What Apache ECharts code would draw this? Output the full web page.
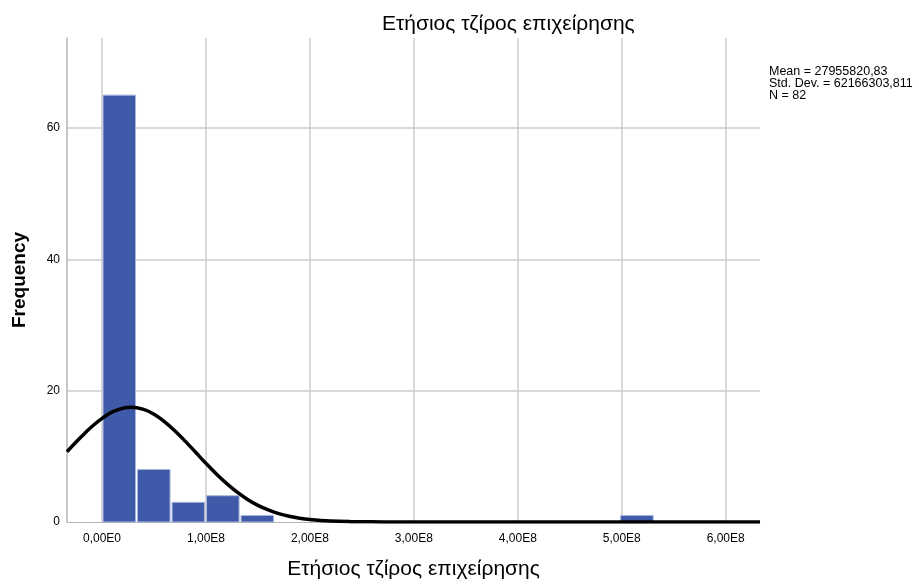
<!DOCTYPE html>
<html>
<head>
<meta charset="utf-8">
<script src="https://cdn.jsdelivr.net/npm/echarts@6/dist/echarts.min.js"></script>
<style>html,body{margin:0;padding:0;background:#fff}#c{width:919px;height:585px}</style>
</head>
<body>
<div id="c"></div>
<script>
// Histogram bins (value units)
var binLow = [0, 33200000, 66400000, 99600000, 132800000, 498000000];
var binHigh = [33200000, 66400000, 99600000, 132800000, 166000000, 531200000];
var counts = [65, 8, 3, 4, 1, 1];

// Normal curve (x in value units, y frequency)
var curveX = [-33700000, -20000000, -10000000, 0, 10000000, 20000000, 28000000, 40000000, 50000000, 60000000, 70000000, 80000000, 90000000, 100000000, 110000000, 120000000, 130000000, 140000000, 150000000, 160000000, 170000000, 180000000, 190000000, 200000000, 220000000, 240000000, 260000000, 280000000, 320000000, 400000000, 500000000, 633000000];
var curveY = [10.7, 12.97, 14.5, 15.79, 16.76, 17.33, 17.47, 17.14, 16.41, 15.3, 13.9, 12.31, 10.62, 8.93, 7.31, 5.84, 4.54, 3.44, 2.54, 1.83, 1.28, 0.88, 0.58, 0.38, 0.15, 0.05, 0.02, 0.005, 0, 0, 0, 0];

var xTickLabels = {0: '0,00E0', 100000000: '1,00E8', 200000000: '2,00E8', 300000000: '3,00E8', 400000000: '4,00E8', 500000000: '5,00E8', 600000000: '6,00E8'};
var yTicks = [0, 20, 40, 60];

var statsLines = ['Mean = 27955820,83', 'Std. Dev. = 62166303,811', 'N = 82'];
var titleText = 'Ετήσιος τζίρος επιχείρησης';

var histData = binLow.map(function (l, i) { return [l, binHigh[i], counts[i]]; });
var curveData = curveX.map(function (x, i) { return [x, curveY[i]]; });

var chart = echarts.init(document.getElementById('c'), null, {renderer: 'canvas'});
var FONT = '"Liberation Sans", Arial, sans-serif';
chart.setOption({
  animation: false,
  backgroundColor: '#ffffff',
  title: {
    text: titleText,
    left: 377, top: 9,
    textStyle: {fontFamily: FONT, fontSize: 21, fontWeight: 'normal', color: '#000'}
  },
  graphic: [{
    type: 'text', left: 769, top: 65,
    style: {text: statsLines.join('\n'), font: '12.5px ' + FONT, fill: '#000', lineHeight: 12}
  }],
  grid: {left: 67, right: 159, top: 38, bottom: 60, containLabel: false},
  xAxis: {
    type: 'value',
    min: -33700000, max: 633000000,
    minInterval: 100000000, maxInterval: 100000000,
    name: titleText, nameLocation: 'middle', nameGap: 37,
    nameTextStyle: {fontFamily: FONT, fontSize: 21, color: '#000'},
    axisLine: {show: true, onZero: false, lineStyle: {color: '#b5b5b5', width: 1}},
    axisTick: {show: false},
    axisLabel: {
      showMinLabel: false, showMaxLabel: false, margin: 11,
      fontFamily: FONT, fontSize: 12, color: '#000',
      formatter: function (v) { return xTickLabels[v] !== undefined ? xTickLabels[v] : ''; }
    },
    splitLine: {show: true, showMinLine: false, showMaxLine: false, lineStyle: {color: '#cccccc', width: 1.5}}
  },
  yAxis: {
    type: 'value',
    min: 0, max: 73.7,
    minInterval: 20, maxInterval: 20,
    name: 'Frequency', nameLocation: 'middle', nameGap: 38,
    nameTextStyle: {fontFamily: FONT, fontSize: 19, fontWeight: 'bold', color: '#000'},
    axisLine: {show: true, onZero: false, lineStyle: {color: '#b5b5b5', width: 1.5}},
    axisTick: {show: false},
    axisLabel: {
      showMaxLabel: false, margin: 7,
      fontFamily: FONT, fontSize: 12, color: '#000',
      formatter: function (v) { return yTicks.indexOf(v) >= 0 ? String(v) : ''; }
    },
    splitLine: {show: true, showMinLine: false, showMaxLine: false, lineStyle: {color: '#cccccc', width: 1.5}}
  },
  series: [{
    type: 'custom',
    data: histData,
    encode: {x: [0, 1], y: 2},
    renderItem: function (params, api) {
      var p0 = api.coord([api.value(0), api.value(2)]);
      var p1 = api.coord([api.value(1), 0]);
      return {
        type: 'rect',
        shape: {x: p0[0] + 1, y: p0[1], width: p1[0] - p0[0] - 2, height: p1[1] - p0[1]},
        style: {fill: '#3e5aa8', stroke: '#aab6dd', lineWidth: 1}
      };
    },
    z: 2
  }, {
    type: 'line',
    data: curveData,
    smooth: 0.4,
    showSymbol: false,
    symbol: 'none',
    lineStyle: {color: '#000', width: 3.5},
    z: 3
  }]
});
</script>
</body>
</html>
